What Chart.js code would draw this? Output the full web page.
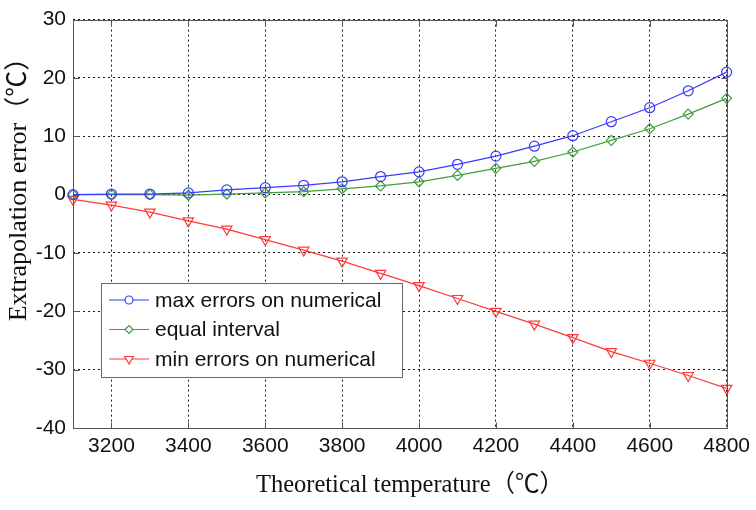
<!DOCTYPE html>
<html lang="en">
<head>
    <title>Extrapolation Error</title>
    <script src="https://cdn.jsdelivr.net/npm/chart.js"></script>
    <style>
        body { margin: 0; background: #fff; }
        #wrap { width: 756px; height: 510px; }
    </style>
</head>
<body>
    <div id="wrap"><canvas id="myChart" width="756" height="510"></canvas></div>

    <script>
        // theoretical temperature (degC)
        const temps = [3100, 3200, 3300, 3400, 3500, 3600, 3700, 3800, 3900,
                       4000, 4100, 4200, 4300, 4400, 4500, 4600, 4700, 4800];
        const maxErrors = [0, 0.1, 0.1, 0.3, 0.8, 1.2, 1.6, 2.2, 3.1,
                           3.9, 5.2, 6.6, 8.3, 10.1, 12.5, 14.9, 17.8, 21.0];
        const equalInterval = [0, 0, 0, -0.1, 0.1, 0.3, 0.5, 1.0, 1.5,
                               2.2, 3.3, 4.5, 5.7, 7.3, 9.3, 11.3, 13.8, 16.5];
        const minErrors = [-0.8, -1.8, -3.0, -4.5, -5.9, -7.7, -9.5, -11.4, -13.5,
                           -15.6, -17.8, -20.0, -22.2, -24.5, -26.9, -28.9, -31.0, -33.2];
        const xTicks = [3200, 3400, 3600, 3800, 4000, 4200, 4400, 4600, 4800];
        const yTicks = [-40, -30, -20, -10, 0, 10, 20, 30];

        const seriesNames = ['max errors on numerical', 'equal interval', 'min errors on numerical'];
        const xTitle = 'Theoretical temperature（℃）';
        const yTitle = 'Extrapolation error（℃）';

        const sans = '"Liberation Sans", Arial, sans-serif';
        const serif = '"Liberation Serif", "Times New Roman", "Noto Sans CJK SC", serif';

        const toPoints = ys => ys.map((y, i) => ({ x: temps[i], y: y }));

        const series = [
            { label: seriesNames[0], data: toPoints(maxErrors), color: '#3a3aff', style: 'circle', radius: 5, rotation: 0 },
            { label: seriesNames[1], data: toPoints(equalInterval), color: '#3f9f3f', style: 'rectRot', radius: 5, rotation: 0 },
            { label: seriesNames[2], data: toPoints(minErrors), color: '#ff3a3a', style: 'triangle', radius: 6, rotation: 180 }
        ];

        // box with inward ticks, in-plot legend and titles, MATLAB style
        const figureDecor = {
            id: 'figureDecor',
            afterDatasetsDraw(chart) {
                const ctx = chart.ctx;
                const a = chart.chartArea;
                const L = Math.round(a.left) + 0.5, R = Math.round(a.right) + 0.5;
                const T = Math.round(a.top) + 0.5, B = Math.round(a.bottom) + 0.5;
                ctx.save();
                ctx.strokeStyle = '#555';
                ctx.lineWidth = 1;
                ctx.strokeRect(L, T, R - L, B - T);

                ctx.beginPath();
                xTicks.forEach(v => {
                    const px = Math.round(chart.scales.x.getPixelForValue(v)) + 0.5;
                    ctx.moveTo(px, B); ctx.lineTo(px, B - 6);
                    ctx.moveTo(px, T); ctx.lineTo(px, T + 6);
                });
                yTicks.forEach(v => {
                    const py = Math.round(chart.scales.y.getPixelForValue(v)) + 0.5;
                    ctx.moveTo(L, py); ctx.lineTo(L + 6, py);
                    ctx.moveTo(R, py); ctx.lineTo(R - 6, py);
                });
                ctx.stroke();

                // legend box
                const lx = 101, ly = 283, lw = 301, lh = 94;
                ctx.fillStyle = '#fff';
                ctx.fillRect(lx, ly, lw, lh);
                ctx.strokeStyle = '#666';
                ctx.strokeRect(lx + 0.5, ly + 0.5, lw, lh);
                ctx.font = '21px ' + sans;
                ctx.textBaseline = 'middle';
                ctx.textAlign = 'left';
                chart.data.datasets.forEach((ds, i) => {
                    const y = ly + 17 + i * 29.5;
                    ctx.strokeStyle = ds.borderColor;
                    ctx.lineWidth = 1.2;
                    ctx.beginPath();
                    ctx.moveTo(109, y);
                    ctx.lineTo(149, y);
                    ctx.stroke();
                    ctx.fillStyle = '#fff';
                    Chart.helpers.drawPoint(ctx, {
                        pointStyle: ds.pointStyle,
                        radius: ds.pointRadius - 1,
                        rotation: ds.pointRotation,
                        borderWidth: 1.2
                    }, 129, y);
                    ctx.fillStyle = '#111';
                    ctx.fillText(ds.label, 155, y + 1);
                });

                // axis titles
                ctx.fillStyle = '#111';
                ctx.textBaseline = 'alphabetic';
                ctx.textAlign = 'center';
                ctx.font = '24.5px ' + serif;
                ctx.fillText(xTitle, 410, 492);
                ctx.font = '26px ' + serif;
                ctx.translate(26, 183);
                ctx.rotate(-Math.PI / 2);
                ctx.fillText(yTitle, 0, 0);
                ctx.restore();
            }
        };

        const ctx = document.getElementById('myChart').getContext('2d');
        new Chart(ctx, {
            type: 'line',
            data: {
                datasets: series.map(s => ({
                    label: s.label,
                    data: s.data,
                    borderColor: s.color,
                    backgroundColor: 'transparent',
                    borderWidth: 1.2,
                    pointStyle: s.style,
                    pointRadius: s.radius,
                    pointRotation: s.rotation,
                    pointBorderColor: s.color,
                    pointBackgroundColor: 'transparent',
                    pointBorderWidth: 1.2,
                    tension: 0,
                    clip: false
                }))
            },
            options: {
                responsive: false,
                animation: false,
                layout: { padding: { left: 0, top: 14, right: 28, bottom: 0 } },
                plugins: {
                    legend: { display: false },
                    tooltip: { enabled: false }
                },
                scales: {
                    x: {
                        type: 'linear',
                        min: 3100,
                        max: 4800,
                        afterBuildTicks: s => { s.ticks = xTicks.map(v => ({ value: v })); },
                        afterFit: s => { s.height = 82; },
                        border: { display: false, dash: [2, 3] },
                        grid: {
                            color: '#1a1a1a',
                            lineWidth: 1,
                            drawTicks: false
                        },
                        ticks: {
                            color: '#111',
                            font: { family: sans, size: 21 },
                            padding: 6,
                            maxRotation: 0,
                            callback: v => String(v)
                        }
                    },
                    y: {
                        min: -40,
                        max: 30,
                        afterBuildTicks: s => { s.ticks = yTicks.map(v => ({ value: v })); },
                        afterFit: s => { s.width = 73; },
                        border: { display: false, dash: [2, 3] },
                        grid: {
                            color: '#1a1a1a',
                            lineWidth: 1,
                            drawTicks: false
                        },
                        ticks: {
                            color: '#111',
                            font: { family: sans, size: 21 },
                            padding: 7,
                            callback: v => String(v)
                        }
                    }
                }
            },
            plugins: [figureDecor]
        });
    </script>
</body>
</html>
